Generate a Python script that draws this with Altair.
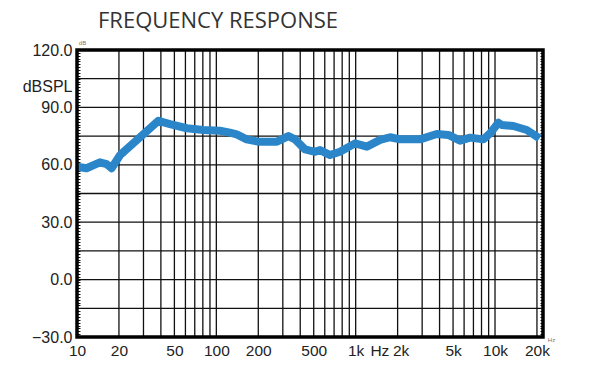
import altair as alt
import pandas as pd

# Frequency response curve (Hz, dB SPL)
freq = [10, 11.7, 14.6, 16.3, 17.7, 20.4, 38.4, 46.5, 61.4, 80.8, 106, 125, 140, 165,
        200, 272, 329, 367, 433, 511, 555, 655, 772, 990, 1202, 1497, 1766, 2084,
        2899, 3818, 4626, 5610, 6620, 8255, 9220, 10580, 11190, 13550, 16900, 20840]
spl = [59.0, 58.2, 61.3, 60.4, 58.2, 65.1, 83.0, 81.3, 79.1, 78.2, 77.8, 76.8, 75.9, 73.3,
       72.1, 72.1, 75.0, 73.3, 68.1, 66.8, 67.7, 65.1, 66.8, 71.2, 69.5, 73.0, 74.4, 73.3,
       73.3, 76.1, 75.6, 72.6, 74.2, 73.3, 76.5, 82.0, 80.8, 80.3, 78.2, 73.8]

# Grid values and labels
grid_freqs = [10, 20, 30, 40, 50, 60, 70, 80, 90,
              100, 200, 300, 400, 500, 600, 700, 800, 900,
              1000, 2000, 3000, 4000, 5000, 6000, 7000, 8000, 9000,
              10000, 20000]
grid_db = [-30, -15, 0, 15, 30, 45, 60, 75, 90, 105, 120]
x_label_values = [10, 20, 50, 100, 200, 500, 1000, 1480, 2000, 5000, 10000, 20000]
y_label_values = [-30, 0, 30, 60, 90, 105, 120]
minor_ticks = [-30 + 1.5 * i for i in range(101)]
freq_range = [10, 22100]
db_range = [-30, 120]
title_text = ["FREQUENCY RESPONSE"]

curve = pd.DataFrame({"freq": freq, "spl": spl})
vgrid = pd.DataFrame({"freq": grid_freqs, "lo": db_range[0], "hi": db_range[1]})
hgrid = pd.DataFrame({"db": grid_db})
frame = pd.DataFrame({"f0": [freq_range[0]], "f1": [freq_range[1]],
                      "d0": [db_range[0]], "d1": [db_range[1]]})
titles = pd.DataFrame({"t": title_text})

xscale = alt.Scale(type="log", domain=freq_range, nice=False)
yscale = alt.Scale(domain=db_range, nice=False, zero=False)

LABEL_FONT = "Liberation Sans"

x_axis = alt.Axis(values=x_label_values, grid=False, ticks=False, domain=False,
                  tickSize=0, labelPadding=6, labelFont=LABEL_FONT,
                  labelFontSize=15.5, labelColor="#222", labelOverlap=False,
                  labelFlush=False,
                  labelOffset={"condition": {"test": "datum.value == 2000", "value": 3}, "value": 0},
                  labelExpr="datum.value == 1480 ? 'Hz' : (datum.value >= 1000 ? (datum.value/1000) + 'k' : datum.value + '')",
                  title="Hz", titleFontSize=6, titleFontWeight="normal",
                  titleColor="#777", titleX=474, titleY=2,
                  titleAlign="center", titleBaseline="middle")

vrules = alt.Chart(vgrid).mark_rule(color="#111", strokeWidth=1.3).encode(
    x=alt.X("freq:Q", scale=xscale, axis=x_axis),
    y=alt.Y("lo:Q", scale=yscale,
            axis=alt.Axis(orient="right", values=minor_ticks, grid=False, domain=False,
                          labels=False, tickSize=3, offset=-3, tickColor="#111",
                          tickWidth=1, title=None)),
    y2="hi:Q",
)

hrules = alt.Chart(hgrid).mark_rule(color="#111", strokeWidth=1.3).encode(
    y=alt.Y("db:Q", scale=yscale,
            axis=alt.Axis(values=y_label_values, grid=False, ticks=False, domain=False,
                          tickSize=0, labelPadding=5, labelFont=LABEL_FONT,
                          labelFontSize=16, labelColor="#222",
                          labelExpr="datum.value == 105 ? 'dBSPL' : format(datum.value, '.1f')",
                          labelBaseline={"condition": {"test": "datum.value == 105", "value": "top"}, "value": "middle"},
                          labelOverlap=False, labelFlush=False,
                          title="dB", titleAngle=0, titleFontSize=6,
                          titleFontWeight="normal", titleColor="#777",
                          titleX=5, titleY=-5, titleAlign="center")),
)

line = alt.Chart(curve).mark_line(color="#2a86c9", strokeWidth=8,
                                  strokeJoin="round", strokeCap="butt").encode(
    x=alt.X("freq:Q", scale=xscale, axis=x_axis),
    y=alt.Y("spl:Q", scale=yscale,
            axis=alt.Axis(orient="left", values=minor_ticks, grid=False, domain=False,
                          labels=False, tickSize=3, offset=-3, tickColor="#111",
                          tickWidth=1, title=None)),
)

border = alt.Chart(frame).mark_rect(fill=None, stroke="#000", strokeWidth=3.5).encode(
    x=alt.X("f0:Q", scale=xscale, axis=x_axis),
    x2="f1:Q",
    y=alt.Y("d0:Q", scale=yscale, axis=None),
    y2="d1:Q",
)

title = alt.Chart(titles).mark_text(
    align="left", baseline="alphabetic", font="Open Sans", fontSize=22,
    color="#333"
).encode(text="t:N", x=alt.value(21), y=alt.value(-22))

chart = alt.layer(vrules, hrules, line, border, title).resolve_axis(y="independent").properties(
    width=466,
    height=287,
    autosize=alt.AutoSizeParams(type="none"),
    padding={"left": 69, "top": 42, "right": 40, "bottom": 30},
).configure_view(stroke=None).configure(background="white")

chart.save("out.html", embed_options={"renderer": "svg", "actions": False})
